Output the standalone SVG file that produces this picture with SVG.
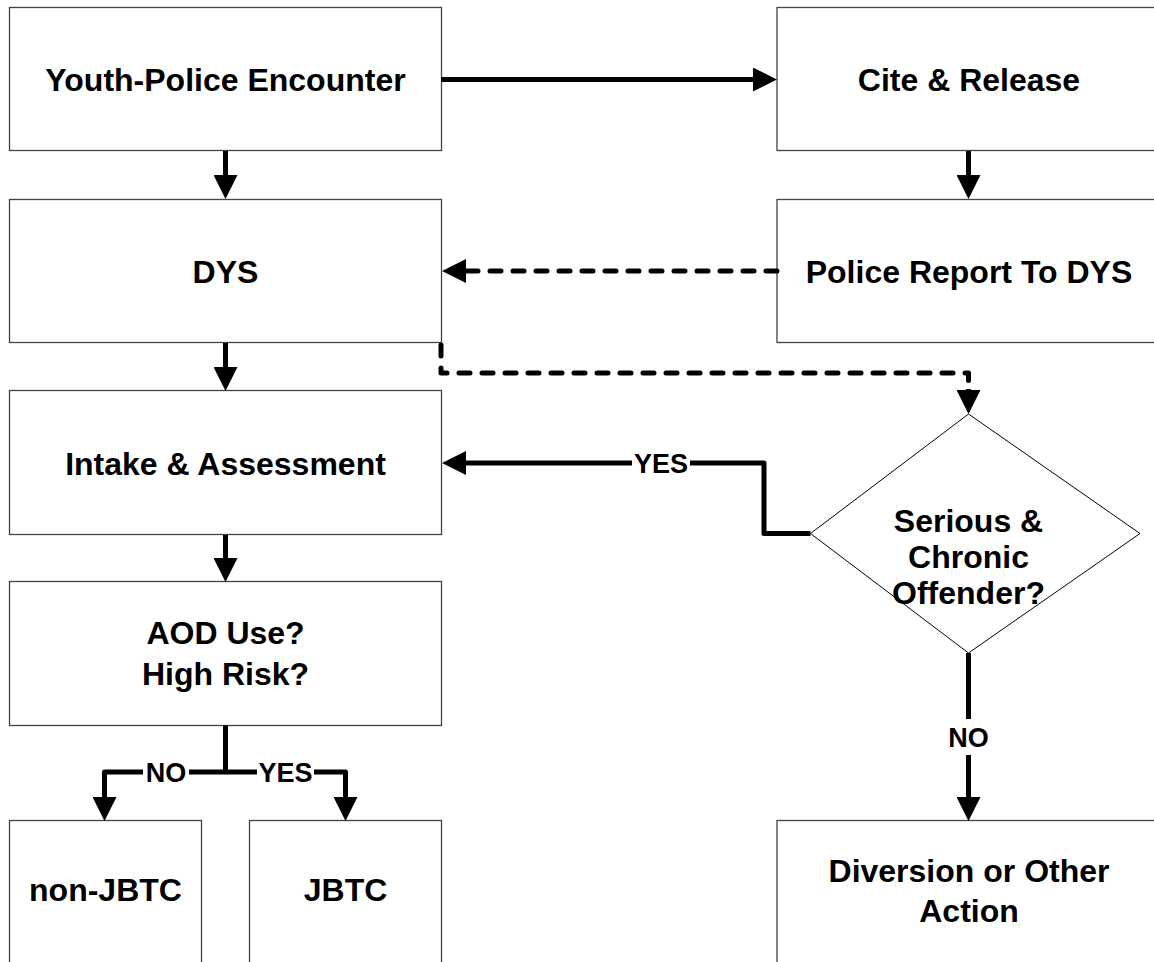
<svg xmlns="http://www.w3.org/2000/svg" width="1154" height="962" viewBox="0 0 1154 962">
<style>
.box{fill:#fff;stroke:#444;stroke-width:1.3}
.dia{fill:#fff;stroke:#000;stroke-width:1}
.t{font-family:"Liberation Sans",Arial,sans-serif;font-weight:bold;font-size:32px;fill:#000;text-anchor:middle}
.s{font-family:"Liberation Sans",Arial,sans-serif;font-weight:bold;font-size:27px;fill:#000;text-anchor:middle}
.c{fill:none;stroke:#000;stroke-width:5;stroke-linejoin:round}
.d{fill:none;stroke:#000;stroke-width:5;stroke-dasharray:11 12;stroke-linecap:round;stroke-linejoin:round}
</style>
<defs>
<marker id="ah" markerUnits="userSpaceOnUse" markerWidth="24" markerHeight="24" refX="0" refY="12" orient="auto" viewBox="0 0 24 24">
<path d="M0,0 L24,12 L0,24 z" fill="#000"/>
</marker>
</defs>
<rect width="1154" height="962" fill="#fff"/>
<g id="n-youth"><rect class="box" x="9.5" y="7.5" width="432" height="143"/><text class="t" x="225.5" y="91">Youth-Police Encounter</text></g>
<g id="n-cite"><rect class="box" x="777" y="7.5" width="384" height="143"/><text class="t" x="969" y="91">Cite &amp; Release</text></g>
<g id="n-dys"><rect class="box" x="9.5" y="199.5" width="432" height="143"/><text class="t" x="225.5" y="282.5">DYS</text></g>
<g id="n-report"><rect class="box" x="777" y="199.5" width="384" height="143"/><text class="t" x="969" y="282.5">Police Report To DYS</text></g>
<g id="n-intake"><rect class="box" x="9.5" y="390.5" width="432" height="144"/><text class="t" x="225.5" y="474.5">Intake &amp; Assessment</text></g>
<g id="n-aod"><rect class="box" x="9.5" y="581.5" width="432" height="144"/><text class="t" x="225.5" y="644">AOD Use?</text><text class="t" x="225.5" y="684.5">High Risk?</text></g>
<g id="n-non"><rect class="box" x="9.5" y="820.5" width="192" height="200"/><text class="t" x="105.5" y="901">non-JBTC</text></g>
<g id="n-jbtc"><rect class="box" x="249.5" y="820.5" width="192" height="200"/><text class="t" x="345.5" y="901">JBTC</text></g>
<g id="n-serious"><polygon class="dia" points="968.5,414 1140,533.5 968.5,653 810.5,533.5"/><text class="t" x="968.5" y="531.5">Serious &amp;</text><text class="t" x="968.5" y="567.5">Chronic</text><text class="t" x="968.5" y="603.5">Offender?</text></g>
<g id="n-diversion"><rect class="box" x="777" y="820.5" width="384" height="200"/><text class="t" x="969" y="882">Diversion or Other</text><text class="t" x="969" y="922">Action</text></g>
<g id="connectors">
<path class="c" d="M441,79.5 H753" marker-end="url(#ah)"/>
<path class="c" d="M225.5,151 V175" marker-end="url(#ah)"/>
<path class="c" d="M968.5,151 V175" marker-end="url(#ah)"/>
<path class="d" d="M777,271 H469"/>
<path class="c" d="M468,271 H466" marker-end="url(#ah)" stroke-width="0"/>
<path class="c" d="M225.5,343 V367" marker-end="url(#ah)"/>
<path class="d" d="M441,345 V373 H968.5 V388"/>
<path class="c" d="M968.5,389 V390" marker-end="url(#ah)" stroke-width="0"/>
<path class="c" d="M225.5,535 V558" marker-end="url(#ah)"/>
<path class="c" d="M810.5,533.5 H764 V463 H690"/>
<path class="c" d="M632,463 H466" marker-end="url(#ah)"/>
<text class="s" x="661" y="472.5">YES</text>
<path class="c" d="M968.5,653 V719"/>
<path class="c" d="M968.5,755 V797" marker-end="url(#ah)"/>
<text class="s" x="968.5" y="746.5">NO</text>
<path class="c" d="M225.5,725.5 V772 H189"/>
<path class="c" d="M143,772 H104.5 V797" marker-end="url(#ah)"/>
<text class="s" x="166" y="781.5">NO</text>
<path class="c" d="M225.5,772 H257"/>
<path class="c" d="M314,772 H345.5 V797" marker-end="url(#ah)"/>
<text class="s" x="285.5" y="781.5">YES</text>
</g>
</svg>
